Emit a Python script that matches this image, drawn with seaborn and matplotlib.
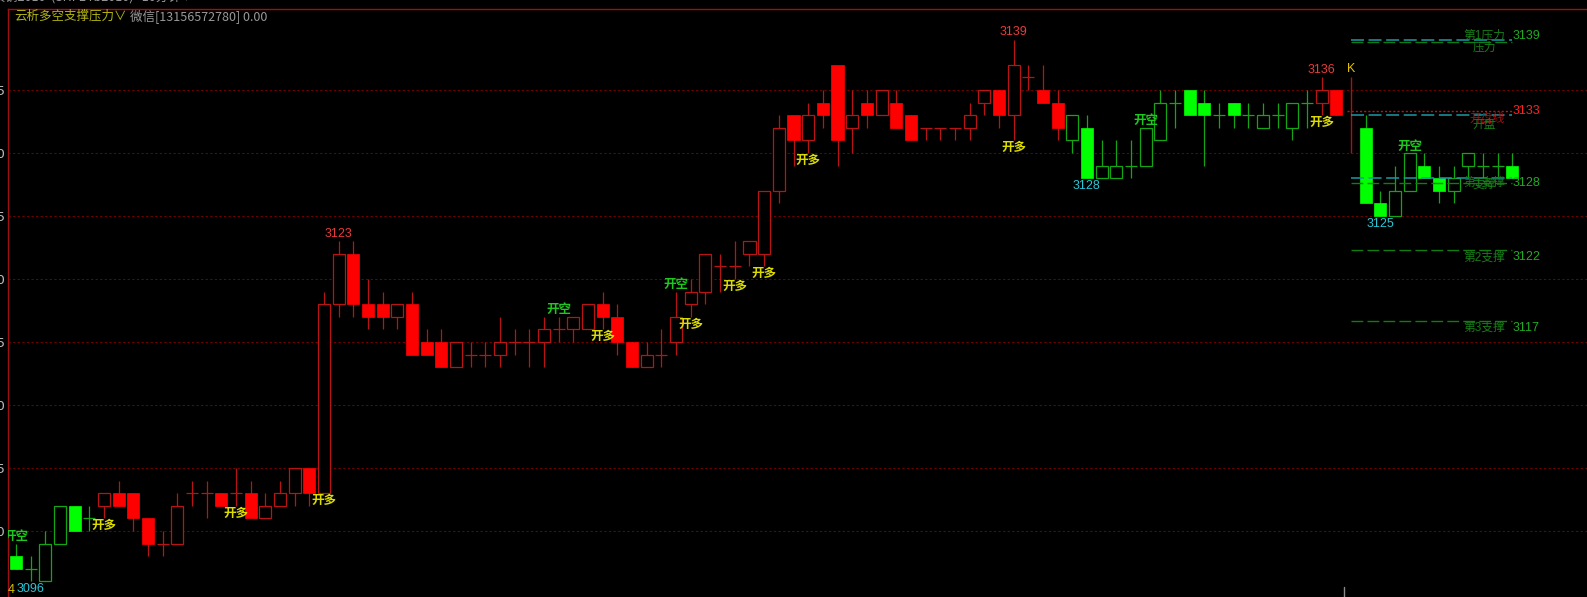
import matplotlib
matplotlib.use("Agg")
import matplotlib.pyplot as plt
import numpy as np
import pandas as pd
import seaborn as sns

nan = np.nan

# ---- 10-minute bars (index 91 is the "K" marker slot) ----
opens = [3098, 3097, 3096, 3099, 3102, 3101, 3102, 3103, 3103, 3101,
         3099, 3099, 3103, 3103, 3103, 3103, 3103, 3101, 3102, 3103,
         3105, 3103, 3118, 3122, 3118, 3118, 3117, 3118, 3115, 3115,
         3113, 3114, 3114, 3114, 3115, 3115, 3115, 3116, 3116, 3116,
         3118, 3117, 3115, 3113, 3114, 3115, 3118, 3119, 3121, 3121,
         3122, 3122, 3127, 3133, 3131, 3134, 3137, 3132, 3134, 3133,
         3134, 3133, 3132, 3132, 3132, 3132, 3134, 3135, 3133, 3136,
         3135, 3134, 3131, 3132, 3128, 3128, 3129, 3129, 3131, 3134,
         3135, 3134, 3133, 3134, 3133, 3132, 3133, 3132, 3134, 3134,
         3135, nan, 3132, 3126, 3125, 3127, 3129, 3128, 3127, 3129,
         3129, 3129, 3129]
highs = [3099, 3098, 3100, 3102, 3102, 3102, 3103, 3104, 3103, 3101,
         3100, 3103, 3104, 3104, 3103, 3105, 3104, 3103, 3104, 3105,
         3105, 3119, 3123, 3123, 3120, 3119, 3118, 3119, 3116, 3116,
         3115, 3115, 3115, 3117, 3116, 3116, 3117, 3117, 3117, 3118,
         3119, 3118, 3115, 3115, 3116, 3119, 3120, 3122, 3122, 3123,
         3123, 3127, 3133, 3133, 3134, 3135, 3137, 3135, 3135, 3135,
         3135, 3133, 3132, 3132, 3132, 3134, 3135, 3135, 3139, 3137,
         3137, 3135, 3133, 3133, 3131, 3131, 3131, 3132, 3135, 3135,
         3135, 3135, 3134, 3134, 3134, 3134, 3134, 3134, 3135, 3136,
         3135, nan, 3133, 3127, 3129, 3130, 3130, 3129, 3129, 3130,
         3130, 3130, 3130]
lows = [3097, 3096, 3096, 3099, 3100, 3100, 3101, 3102, 3100, 3098,
        3098, 3099, 3102, 3101, 3102, 3102, 3101, 3101, 3102, 3102,
        3102, 3103, 3117, 3117, 3116, 3116, 3116, 3114, 3114, 3113,
        3113, 3113, 3113, 3113, 3114, 3113, 3113, 3115, 3115, 3116,
        3116, 3114, 3113, 3113, 3113, 3114, 3117, 3118, 3119, 3120,
        3121, 3121, 3126, 3129, 3130, 3132, 3129, 3130, 3132, 3133,
        3132, 3131, 3131, 3131, 3131, 3131, 3133, 3132, 3131, 3135,
        3134, 3131, 3130, 3128, 3128, 3128, 3128, 3129, 3131, 3132,
        3133, 3129, 3132, 3132, 3132, 3132, 3132, 3131, 3132, 3133,
        3133, nan, 3126, 3125, 3125, 3127, 3128, 3126, 3126, 3128,
        3128, 3128, 3128]
closes = [3097, 3097, 3099, 3102, 3100, 3101, 3103, 3102, 3101, 3099,
          3099, 3102, 3103, 3103, 3102, 3103, 3101, 3102, 3103, 3105,
          3103, 3118, 3122, 3118, 3117, 3117, 3118, 3114, 3114, 3113,
          3115, 3114, 3114, 3115, 3115, 3115, 3116, 3116, 3117, 3118,
          3117, 3115, 3113, 3114, 3114, 3117, 3119, 3122, 3121, 3121,
          3123, 3127, 3132, 3131, 3133, 3133, 3131, 3133, 3133, 3135,
          3132, 3131, 3132, 3132, 3132, 3133, 3135, 3133, 3137, 3136,
          3134, 3132, 3133, 3128, 3129, 3129, 3129, 3132, 3134, 3134,
          3133, 3133, 3133, 3133, 3133, 3133, 3133, 3134, 3134, 3135,
          3133, nan, 3126, 3125, 3127, 3130, 3128, 3127, 3128, 3130,
          3129, 3129, 3128]
# r = long state (red), g = short state (green), k = marker slot
trend = ("gggggg"
         "rrrrrrrrrr" "rrrrrrrrrr" "rrrrrrrrrr" "rrrrrrrrrr" "rrrrrrrrrr" "rrrrrrrrrr" "rrrrrr"
         "gggggggggg" "ggggggg"
         "rr" "k"
         "gggggggggg" "g")

long_idx = [6, 15, 21, 40, 46, 49, 51, 54, 68, 89]   # 开多
short_idx = [0, 37, 45, 77, 95]                      # 开空
peak_idx = [22, 68, 89]
trough_idx = [1, 73, 93]

k_idx = 91
k_span = [3130, 3136]

cyan_lines = [3139.0, 3133.0, 3128.0]
green_lines = [3138.8, 3127.6, 3122.3, 3116.7]
open_line = 3133.3
level_names = ["第1压力", "第1支撑", "第2支撑", "第3支撑"]
level_values = [3139.0, 3128.0, 3122.3, 3116.7]

df = pd.DataFrame({"open": opens, "high": highs, "low": lows,
                   "close": closes, "trend": list(trend)})
df["idx"] = np.arange(len(df))

# ---- style ----
sns.set_theme(style="dark", rc={
    "axes.facecolor": "black", "figure.facecolor": "black",
    "axes.edgecolor": "#a01010", "axes.linewidth": 1.0,
})
plt.rcParams["font.family"] = ["DejaVu Sans", "Noto Sans CJK SC"]
CJK = ["Noto Sans CJK SC", "DejaVu Sans"]
NUM = ["Liberation Sans", "Noto Sans CJK SC"]
PX = 0.72  # points per pixel at 100 dpi

RED_LINE, RED_FILL = "#b81414", "#ff0000"
GRN_LINE, GRN_FILL = "#14a514", "#00ff00"

W, H = 1587, 597
fig = plt.figure(figsize=(W / 100, H / 100), dpi=100)
ax = fig.add_axes([8 / W, 0, (W - 8) / W, (H - 9) / H])
ax.set_xlim(-0.545, 107.09)
ax.set_ylim(3094.76, 3141.43)

ax.set_yticks(range(3100, 3140, 5))
ax.set_xticks([])
ax.grid(axis="y", color="#700000", linestyle=(0, (2.2, 2.2)), linewidth=0.75)
ax.set_axisbelow(True)
ax.tick_params(axis="y", length=0, pad=1.5, colors="#bdbdbd", labelsize=9.5)
for s in ["right", "bottom"]:
    ax.spines[s].set_visible(False)
ax.spines["left"].set_color("#a01010")
ax.spines["top"].set_color("#a01010")

# ---- candles ----
bw = 0.82
for _, r in df.dropna().iterrows():
    line = RED_LINE if r.trend == "r" else GRN_LINE
    fill = RED_FILL if r.trend == "r" else GRN_FILL
    ax.vlines(r.idx, r.low, r.high, color=line, lw=0.9, zorder=2)
    if r.close == r.open:
        ax.hlines(r.open, r.idx - bw / 2, r.idx + bw / 2, color=line, lw=0.9, zorder=3)
    elif r.close > r.open:
        ax.bar(r.idx, r.close - r.open, bottom=r.open, width=bw,
               facecolor="black", edgecolor=line, linewidth=0.9, zorder=3)
    else:
        ax.bar(r.idx, r.open - r.close, bottom=r.close, width=bw,
               facecolor=fill, edgecolor=fill, linewidth=0.5, zorder=3)

# K marker
ax.vlines(k_idx, k_span[0], k_span[1], color="#b01010", lw=1.0, zorder=2)


def note(x, y, s, dy_px, color, size, fam, ha="center", dx_px=0, weight="normal"):
    ax.annotate(s, (x, y), xytext=(dx_px * PX, dy_px * PX), textcoords="offset points",
                ha=ha, va="center", color=color, fontsize=size, family=fam,
                fontweight=weight, annotation_clip=False, clip_on=True, zorder=5)


note(k_idx, k_span[1], "K", 8, "#e0c000", 9, NUM)

for i in long_idx:
    note(i, lows[i], "开多", -7.5, "#dcdc00", 9, CJK, weight="bold")
for i in short_idx:
    note(i, highs[i], "开空", 7, "#1ec81e", 9, CJK, weight="bold")
for i in peak_idx:
    note(i, highs[i], f"{highs[i]:.0f}", 7.5, "#e83c3c", 9, NUM)
for i in trough_idx:
    note(i, lows[i], f"{lows[i]:.0f}", -8, "#28c8d8", 9, NUM)

# ---- support / resistance block ----
x0, x1 = k_idx, 102.0
for v in cyan_lines:
    ax.hlines(v, x0, x1, color="#1a9aa6", lw=1.1, linestyle=(0, (8.5, 3)), zorder=4)
for v in green_lines:
    ax.hlines(v, x0, x1, color="#0f7d0f", lw=1.0, linestyle=(0, (8.5, 3)), zorder=4)
ax.hlines(open_line, x0 - 0.3, x1, color="#c81010", lw=1.0, linestyle=(0, (1.5, 1.5)), zorder=4)

lab_dy = [3.7, -4.8, -7.3, -7.3]
for name, v, dy in zip(level_names, level_values, lab_dy):
    note(x1, v, name, dy, "#187e18", 8.5, NUM, ha="right", dx_px=-7)
    note(x1, v, f"{v:.0f}", dy, "#22aa22", 9, NUM, ha="left", dx_px=0)
note(x1, 3139.0, "压力", -7.6, "#187e18", 8.5, CJK, ha="right", dx_px=-16)
note(x1, 3128.0, "支撑", -5.7, "#187e18", 8.5, CJK, ha="right", dx_px=-16)
note(x1, open_line, "3133", 0, "#ff2020", 9, NUM, ha="left")
note(x1, 3133.0, "开盘线", -3.5, "#a01010", 8.5, CJK, ha="right", dx_px=-8)
note(x1, 3133.0, "开盘", -9.5, "#187e18", 8.5, CJK, ha="right", dx_px=-16)

# day separator tick at the bottom
ax.axvline(90.5, ymin=0, ymax=10 / 588, color="#8a8a8a", lw=1.0)

# ---- header texts ----
fig.text(14 / W, 1 - 16 / H, "云析多空支撑压力∨", color="#b4b414", fontsize=9,
         family=CJK, va="center", ha="left")
fig.text(130 / W, 1 - 16 / H, "微信[13156572780] 0.00", color="#9a9a9a", fontsize=9,
         family=CJK, va="center", ha="left")
fig.text(-20 / W, 1 + 3 / H, "螺纹钢2010  (SHFE rb2010)   10分钟 ▾", color="#9a9a9a",
         fontsize=9, family=CJK, va="center", ha="left")
fig.text(8 / W, 1 - 590 / H, "4", color="#d8c000", fontsize=9, family=NUM,
         va="center", ha="left")

fig.savefig("out.png", dpi=100, facecolor="black")
